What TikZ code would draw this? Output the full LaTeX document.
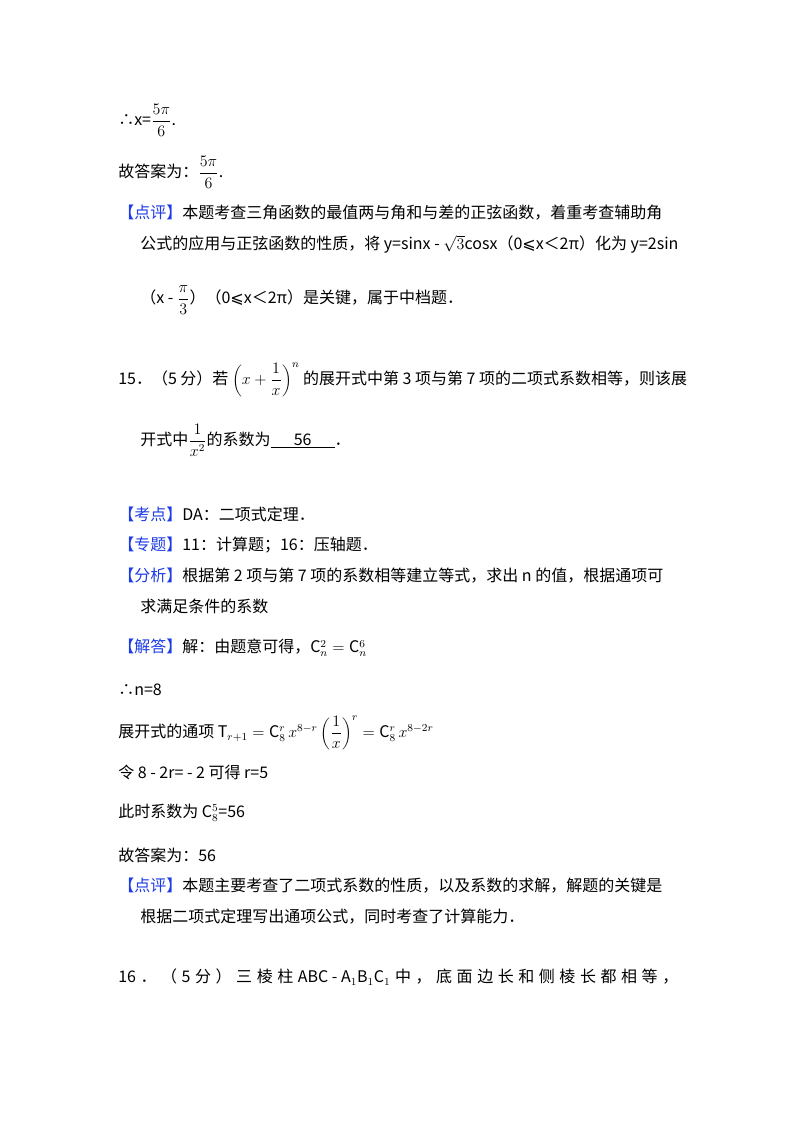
\documentclass[tikz,border=0pt]{standalone}
\usepackage{fontspec}
\setmainfont{Noto Sans CJK SC}
\newfontfamily\djv{DejaVu Sans}
\usetikzlibrary{calc}
\definecolor{tagblue}{RGB}{30,60,230}
\newcommand{\tagb}[1]{\textcolor{tagblue}{【#1】}}
\newcommand{\leqs}{{\djv ⩽}}
\begin{document}
\begin{tikzpicture}[x=0.75pt,y=-0.75pt,
  ln/.style={anchor=west,inner sep=0pt,font=\fontsize{12}{14}\selectfont}]
\useasboundingbox[fill=white] (0,0) rectangle (800,1133);
\node[ln] (l1) at (118,120) {∴x=$\displaystyle\frac{5\pi}{6}$.};
\node[ln] (l2) at (118,172) {故答案为：$\displaystyle\frac{5\pi}{6}$.};
\node[ln] (l3) at (118,213) {\tagb{点评}本题考查三角函数的最值两与角和与差的正弦函数，着重考查辅助角};
\node[ln] (l4) at (140,244) {公式的应用与正弦函数的性质，将 y=sinx - $\sqrt{3}$cosx（0\leqs x＜2π）化为 y=2sin};
\node[ln] (l5) at (140,300) {（x - $\displaystyle\frac{\pi}{3}$）（0\leqs x＜2π）是关键，属于中档题．};
\node[ln] (l6) at (118,380) {15．（5 分）若 $\left(x+\displaystyle\frac{1}{x}\right)^{n}$ 的展开式中第 3 项与第 7 项的二项式系数相等，则该展};
\node[ln] (l7) at (140,440) {开式中$\displaystyle\frac{1}{x^2}$的系数为\underline{\makebox[48pt]{56}}．};
\node[ln] (l8) at (118,514) {\tagb{考点}DA：二项式定理．};
\node[ln] (l9) at (118,545) {\tagb{专题}11：计算题；16：压轴题．};
\node[ln] (l10) at (118,576) {\tagb{分析}根据第 2 项与第 7 项的系数相等建立等式，求出 n 的值，根据通项可};
\node[ln] (l11) at (140,606) {求满足条件的系数};
\node[ln] (l12) at (118,648) {\tagb{解答}解：由题意可得，$\mathrm{C}_n^2=\mathrm{C}_n^6$};
\node[ln] (l13) at (118,690) {∴n=8};
\node[ln] (l14) at (118,733) {展开式的通项 $\mathrm{T}_{r+1}=\mathrm{C}_8^r\, x^{8-r}\displaystyle\left(\frac{1}{x}\right)^{r}=\mathrm{C}_8^r\, x^{8-2r}$};
\node[ln] (l15) at (118,772) {令 8 - 2r= - 2 可得 r=5};
\node[ln] (l16) at (118,813) {此时系数为 $\mathrm{C}_8^5$=56};
\node[ln] (l17) at (118,855) {故答案为：56};
\node[ln] (l18) at (118,886) {\tagb{点评}本题主要考查了二项式系数的性质，以及系数的求解，解题的关键是};
\node[ln] (l19) at (140,917) {根据二项式定理写出通项公式，同时考查了计算能力．};
\node[ln] (l20) at (118,977) {\makebox[420pt][s]{16 \hfill ． \hfill （ \hfill 5 \hfill 分 \hfill ） \hfill 三 \hfill 棱 \hfill 柱 \hfill ABC - A$_1$B$_1$C$_1$ \hfill 中 \hfill ， \hfill 底 \hfill 面 \hfill 边 \hfill 长 \hfill 和 \hfill 侧 \hfill 棱 \hfill 长 \hfill 都 \hfill 相 \hfill 等 \hfill ，}};
\end{tikzpicture}
\end{document}
